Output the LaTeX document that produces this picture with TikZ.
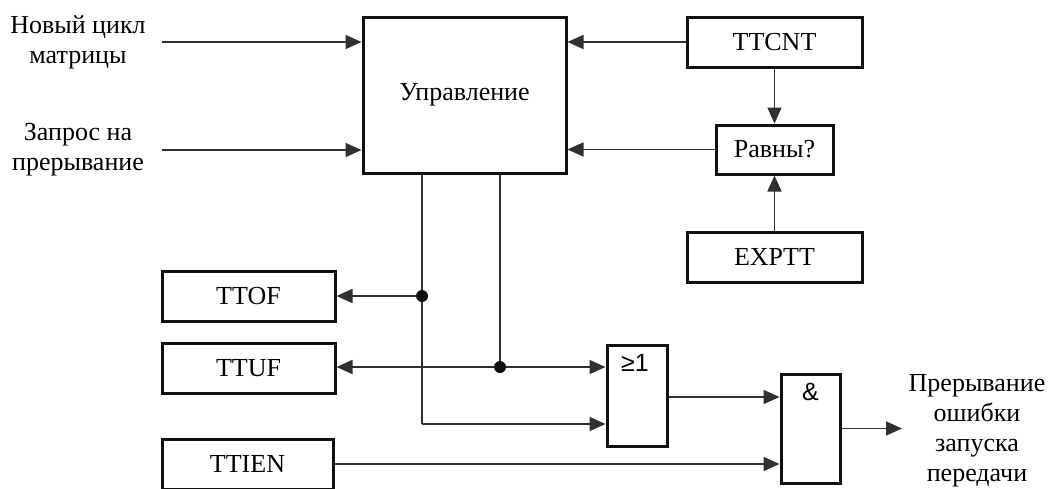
\documentclass[tikz,border=0pt]{standalone}
\usepackage{fontspec}
\setmainfont{Liberation Serif}
\newfontfamily\gatefont{Liberation Sans}
\usetikzlibrary{positioning,arrows.meta,calc}
\definecolor{ink}{HTML}{101010}
\definecolor{wire}{HTML}{303030}
\tikzset{
  box/.style={draw=ink, fill=white, line width=3pt, inner sep=0pt, align=center, font=\fontsize{26}{30}\selectfont},
  gate/.style={box},
  lab/.style={align=center, inner sep=0pt, font=\fontsize{26}{30}\selectfont},
  gatelbl/.style={inner sep=0pt, font=\gatefont\fontsize{25}{27}\selectfont},
  flow/.style={-{Triangle[length=16pt,width=14pt]}, draw=wire, line width=1.6pt},
  wirel/.style={draw=wire, line width=1.6pt},
  jdot/.style={circle, fill=ink, inner sep=0pt, minimum size=12pt},
}

\begin{document}
\begin{tikzpicture}[x=1pt,y=-1pt]
    \useasboundingbox (0,0) rectangle (1050,488);
    \node[box, minimum width=203pt, minimum height=156pt] (ctrl) at (464.5,95) {Управление};
    \node[box, minimum width=175pt, minimum height=50pt] (ttcnt) at (774.5,42) {TTCNT};
    \node[box, minimum width=117pt, minimum height=49pt] (eq) at (774.5,149.5) {Равны?};
    \node[box, minimum width=175pt, minimum height=50pt] (exptt) at (774.5,257) {EXPTT};
    \node[box, minimum width=173pt, minimum height=50pt] (ttof) at (248.5,296) {TTOF};
    \node[box, minimum width=173pt, minimum height=50pt] (ttuf) at (248.5,368) {TTUF};
    \node[box, minimum width=171pt, minimum height=50pt] (ttien) at (247.5,464) {TTIEN};
    \node[gate, minimum width=60pt, minimum height=101pt] (or1) at (637,395.5) {};
    \node[gate, minimum width=59pt, minimum height=109pt] (and1) at (810.5,428.5) {};
    \node[gatelbl, below=11pt of or1.north, xshift=-2pt] (orlbl) {≥1};
    \node[gatelbl, below=10pt of and1.north] (andlbl) {\&};
    \node[lab] (lbla) at (78,42) {Новый цикл\\матрицы};
    \node[lab] (lblb) at (78,150) {Запрос на\\прерывание};
    \node[lab] (lblout) at (977,431) {Прерывание\\ошибки\\запуска\\передачи};
    \coordinate (ina) at (162,42);
    \coordinate (inb) at (162,150);
    \coordinate (j1) at (422,296);
    \coordinate (j2) at (500,367);
    \coordinate (bend) at (422,424);
    \coordinate (out) at (902,428.5);
    \draw[flow] (ina) -- (ina -| ctrl.west);
    \draw[flow] (inb) -- (inb -| ctrl.west);
    \draw[flow] (ttcnt.west) -- (ttcnt.west -| ctrl.east);
    \draw[flow] (eq.west) -- (eq.west -| ctrl.east);
    \draw[flow] (ttcnt.south) -- (eq.north);
    \draw[flow] (exptt.north) -- (eq.south);
    \draw[wirel] (ctrl.south -| j1) -- (bend);
    \draw[flow] (bend) -- (bend -| or1.west);
    \draw[flow] (j1) -- (j1 -| ttof.east);
    \draw[wirel] (ctrl.south -| j2) -- (j2);
    \draw[flow] (j2) -- (j2 -| ttuf.east);
    \draw[flow] (j2) -- (j2 -| or1.west);
    \draw[flow] (or1.east |- 0,397) -- (and1.west |- 0,397);
    \draw[flow] (ttien.east) -- (ttien.east -| and1.west);
    \draw[flow] (and1.east) -- (out);
    \node[jdot] at (j1) {};
    \node[jdot] at (j2) {};
  \end{tikzpicture}
\end{document}
